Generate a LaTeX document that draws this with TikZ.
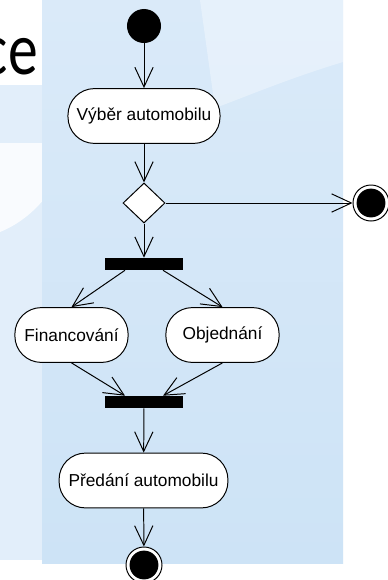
\documentclass[tikz,border=0pt]{standalone}
\usepackage{fontspec}
\setmainfont{Liberation Sans}
\newfontfamily\titlefont{Carlito}
\usetikzlibrary{arrows.meta, positioning, calc, shapes.geometric}
\definecolor{slideblue}{RGB}{205, 227, 246}
\definecolor{slidetop}{RGB}{218, 234, 249}
\definecolor{slidepale}{RGB}{226, 238, 250}

\begin{document}
\begin{tikzpicture}[x=0.025cm, y=-0.025cm,
  action/.style={draw, fill=white, line width=0.7pt, rounded corners=0.66cm,
    minimum height=1.37cm, inner sep=0pt, font=\fontsize{12.3}{14}\selectfont},
  bar/.style={fill=black, minimum width=1.95cm, minimum height=0.3cm, inner sep=0pt},
  decision/.style={diamond, draw, fill=white, line width=0.7pt,
    minimum width=1.05cm, minimum height=1cm, inner sep=0pt},
  startdot/.style={circle, fill=black, minimum size=0.85cm, inner sep=0pt},
  enddot/.style={circle, draw, fill=white, line width=0.7pt, minimum size=0.9cm, inner sep=0pt,
    path picture={\fill[black] (path picture bounding box.center) circle (0.36cm);}},
  flow/.style={-{Straight Barb[length=14pt, width=13pt]}, line width=0.7pt}]
\clip (0,0) rectangle (388,580);
% slide background
\fill[white] (0,0) rectangle (388,580);
\fill[slidepale] (0,85) rectangle (42,560);
\fill[white, opacity=0.8] (0,143) -- (72,143) .. controls (60,190) and (30,220) .. (0,232) -- cycle;
\shade[top color=slidetop, bottom color=slideblue] (42,0) rectangle (343,563);
\fill[white, opacity=0.35] (200,0) -- (343,0) -- (343,62) .. controls (290,78) and (250,95) .. (215,108) -- cycle;
\node[anchor=base east, inner sep=0pt, xscale=0.8, font=\titlefont\fontsize{53}{60}\selectfont] (title) at (38,74) {ce};

% activity diagram
\node[startdot] (start) at (144,26) {};
\node[action, minimum width=3.8cm] (choose) at (144,116) {Výběr automobilu};
\node[decision] (decide) at (144,203) {};
\node[enddot] (cancel) at (371,203) {};
\node[bar] (fork) at (144,264) {};
\node[action, minimum width=2.83cm] (finance) at (71.5,335) {Financování};
\node[action, minimum width=2.83cm] (order) at (222.5,335) {Objednání};
\node[bar] (join) at (144,402) {};
\node[action, minimum width=4.22cm] (handover) at (143.5,480.5) {Předání automobilu};
\node[enddot] (done) at (144,565) {};

\draw[flow] (start) -- (choose);
\draw[flow] (choose) -- (decide);
\draw[flow] (decide) -- (cancel);
\draw[flow] (decide) -- (fork);
\draw[flow] ([xshift=-0.475cm]fork.south) -- (finance.north);
\draw[flow] ([xshift=0.475cm]fork.south) -- (order.north);
\draw[flow] (finance.south) -- ([xshift=-0.475cm]join.north);
\draw[flow] (order.south) -- ([xshift=0.475cm]join.north);
\draw[flow] (join) -- (handover);
\draw[flow] (handover) -- (done);
\end{tikzpicture}
\end{document}
